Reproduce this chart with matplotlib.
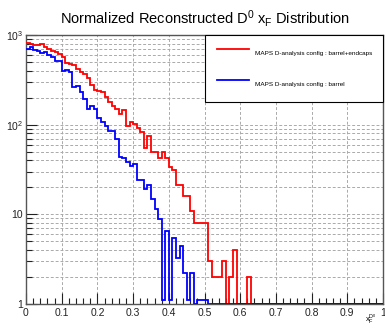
import numpy as np
import matplotlib
matplotlib.use('Agg')
import matplotlib.pyplot as plt
from matplotlib.ticker import FixedLocator, MultipleLocator, LogLocator, NullFormatter

plt.rcParams['font.family'] = ['Liberation Sans', 'DejaVu Sans']
plt.rcParams['mathtext.fontset'] = 'custom'
plt.rcParams['mathtext.rm'] = 'Liberation Sans'
plt.rcParams['mathtext.it'] = 'Liberation Sans'
plt.rcParams['mathtext.default'] = 'regular'

# x_F bins : 100 bins from 0 to 1
xf_min, xf_max, n_bins = 0.0, 1.0, 100

# barrel+endcaps (rouge)
red_counts = [820, 790, 770, 770, 795, 730, 700, 670, 640, 610,
              570, 484, 480, 464, 420, 385, 370, 335, 280, 245,
              240, 229, 202, 178, 163, 149, 131, 146, 96, 106,
              102, 91, 82, 55, 74, 50, 50, 43, 50, 42,
              34, 31, 21, 21, 16, 16, 11, 8, 8, 8,
              8, 3, 2, 2, 2, 3, 0, 2, 4, 0,
              0, 0, 2, 0, 0, 0, 0, 0, 0, 0,
              0, 0, 0, 0, 0, 0, 0, 0, 0, 0,
              0, 0, 0, 0, 0, 0, 0, 0, 0, 0,
              0, 0, 0, 0, 0, 0, 0, 0, 0, 0]

# barrel seulement (bleu)
blue_counts = [700, 730, 687, 670, 630, 642, 598, 564, 508, 508,
               399, 405, 383, 264, 270, 229, 192, 151, 160, 151,
               120, 106, 97, 85, 86, 69, 44, 43, 38, 35,
               36, 24, 24, 19, 21, 15, 11.5, 8.8, 1.1, 6.6,
               1.1, 5.5, 3.3, 4.4, 2.2, 1.1, 2.2, 0, 1.1, 1.1,
               1.1, 0, 0, 0, 0, 0, 0, 0, 0, 0,
               0, 0, 0, 0, 0, 0, 0, 0, 0, 0,
               0, 0, 0, 0, 0, 0, 0, 0, 0, 0,
               0, 0, 0, 0, 0, 0, 0, 0, 0, 0,
               0, 0, 0, 0, 0, 0, 0, 0, 0, 0]

red_label = 'MAPS D-analysis config : barrel+endcaps'
blue_label = 'MAPS D-analysis config : barrel'
x_ticks = [0, 0.1, 0.2, 0.3, 0.4, 0.5, 0.6, 0.7, 0.8, 0.9, 1]
x_tick_labels = ['0', '0.1', '0.2', '0.3', '0.4', '0.5', '0.6', '0.7', '0.8', '0.9', '1']
y_ticks = [1, 10, 100, 1000]
y_tick_labels = ['1', '10', '$10^{2}$', '$10^{3}$']

edges = np.linspace(xf_min, xf_max, n_bins + 1)
y_min, y_max = 1, 1000

fig = plt.figure(figsize=(3.85, 3.29), dpi=100)
ax = fig.add_axes([26 / 385, 1 - 304 / 329, 357 / 385, 269 / 329])

# les bins vides sont dessinés en bas de l'axe (comme ROOT en log)
red_draw = np.where(np.array(red_counts) > 0, red_counts, y_min)
blue_draw = np.where(np.array(blue_counts) > 0, blue_counts, y_min)

ax.stairs(red_draw, edges, baseline=None, color='#ff0000', lw=1.3, label=red_label, zorder=3)
ax.stairs(blue_draw, edges, baseline=None, color='#0000ff', lw=1.3, label=blue_label, zorder=4)

ax.set_yscale('log')
ax.set_xlim(xf_min, xf_max)
ax.set_ylim(y_min, y_max)

ax.xaxis.set_major_locator(FixedLocator(x_ticks))
ax.set_xticklabels(x_tick_labels)
ax.xaxis.set_minor_locator(MultipleLocator(0.02))
ax.yaxis.set_major_locator(FixedLocator(y_ticks))
ax.set_yticklabels(y_tick_labels)
ax.yaxis.set_minor_locator(LogLocator(base=10, subs=np.arange(2, 10)))
ax.yaxis.set_minor_formatter(NullFormatter())

ax.tick_params(axis='both', which='both', direction='in', labelsize=7.5, colors='#222222')
ax.tick_params(axis='both', which='major', length=8, width=0.8, pad=3)
ax.tick_params(axis='both', which='minor', length=4, width=0.8)
ax.tick_params(axis='y', which='major', pad=2)

ax.grid(True, which='major', axis='x', color='#aaaaaa', ls=(0, (3, 2)), lw=0.7)
ax.grid(True, which='both', axis='y', color='#aaaaaa', ls=(0, (3, 2)), lw=0.7)
ax.set_axisbelow(True)
for s in ax.spines.values():
    s.set_color('#555555')
    s.set_linewidth(1.0)

ax.set_title(r'Normalized Reconstructed D$^{0}$ x$_{F}$ Distribution', fontsize=10.5, pad=8)
ax.text(0.982, -0.086, r'x$_{F}^{D^{0}}$', transform=ax.transAxes, ha='right', va='bottom', fontsize=5.5)

leg = ax.legend(loc='upper left', bbox_to_anchor=(0.501, 0.0, 0.499, 1.0), mode='expand',
                borderaxespad=0, fontsize=4.6, frameon=True, fancybox=False,
                edgecolor='black', framealpha=1, handlelength=5, handleheight=2.5,
                handletextpad=1.0, labelspacing=3.05, borderpad=1.85)
leg.get_frame().set_linewidth(0.8)
leg.set_zorder(10)

fig.savefig('out.png', dpi=100)
